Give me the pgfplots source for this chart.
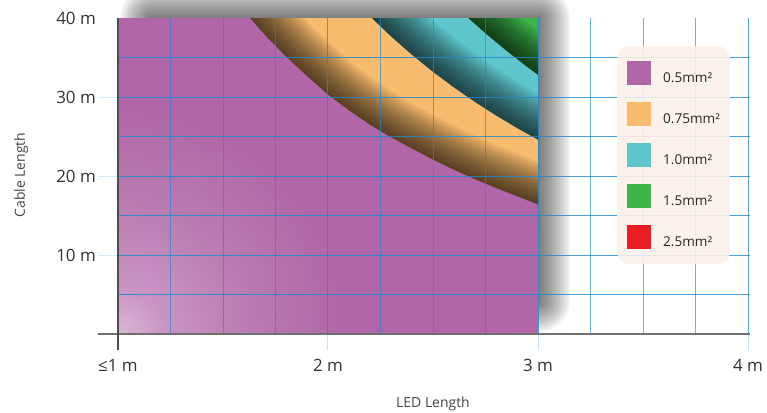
\documentclass[border=0pt]{standalone}
\usepackage{pgfplots}
\pgfplotsset{compat=1.18}
\usepackage{pgfplotstable}
\usepackage{fontspec}
\setmainfont{Open Sans}

\definecolor{cpurple}{HTML}{B066A8}
\definecolor{gA}{HTML}{DAB6D5}
\definecolor{gB}{HTML}{CA95C5}
\definecolor{gC}{HTML}{C088B9}
\definecolor{gD}{HTML}{B87AB0}
\definecolor{corange}{HTML}{F8BC6E}
\definecolor{ccyan}{HTML}{5EC6CC}
\definecolor{cgreen}{HTML}{3CB44A}
\definecolor{cred}{HTML}{ED1C24}
\definecolor{legbg}{HTML}{FBF0E9}
\definecolor{gridblue}{RGB}{30,136,210}
\definecolor{xaxcol}{HTML}{707070}
\definecolor{yaxcol}{HTML}{4D4D4D}
\definecolor{tickcol}{HTML}{333333}
\definecolor{labcol}{HTML}{444444}

\pgfdeclareradialshading{cornerglow}{\pgfpoint{0bp}{0bp}}{color(0bp)=(gA); color(5bp)=(gB); color(10bp)=(gC); color(15bp)=(gD); color(25bp)=(cpurple); color(50bp)=(cpurple)}

% region below boundary 1 (0.5 mm2)
\pgfplotstableread{
x y
1 0
1 40
1.629 40
1.7 37.85
1.8 35.12
1.9 32.67
2.0 30.3
2.1 28.3
2.2 26.5
2.3 24.9
2.4 23.48
2.5 22.08
2.6 20.79
2.7 19.6
2.8 18.49
2.9 17.46
3 16.4
3 0
}\regA
\pgfplotstableread{
x y
1.5 44.4
1.629 40
1.7 37.85
1.8 35.12
1.9 32.67
2.0 30.3
2.1 28.3
2.2 26.5
2.3 24.9
2.4 23.48
2.5 22.08
2.6 20.79
2.7 19.6
2.8 18.49
2.9 17.46
3 16.4
3.2 14.75
}\curveA
% region below boundary 2 (0.75 mm2)
\pgfplotstableread{
x y
1 0
1 40
2.208 40
2.3 37.67
2.4 35.34
2.5 33.19
2.6 31.21
2.7 29.37
2.8 27.67
2.9 26.08
3 24.6
3 0
}\regB
\pgfplotstableread{
x y
2.0 46.07
2.208 40
2.3 37.67
2.4 35.34
2.5 33.19
2.6 31.21
2.7 29.37
2.8 27.67
2.9 26.08
3 24.6
3.2 21.92
}\curveB
% region below boundary 3 (1.0 mm2)
\pgfplotstableread{
x y
1 0
1 40
2.668 40
2.75 38.06
2.85 35.85
2.95 33.78
3 32.8
3 0
}\regC
\pgfplotstableread{
x y
2.45 45.8
2.668 40
2.75 38.06
2.85 35.85
2.95 33.78
3 32.8
3.2 29.19
}\curveC

\begin{document}
\begin{tikzpicture}
\useasboundingbox (-98bp,-63bp) rectangle (669bp,350bp);
\begin{axis}[
  at={(0,0)}, anchor=south west,
  scale only axis, width=652bp, height=331.8bp,
  xmin=0.9048, xmax=4.0095, ymin=-2, ymax=40,
  clip=false,
  axis line style={draw=none},
  major tick length=0pt, minor tick length=0pt,
  tick style={draw=none},
  xtick={1,2,3,4}, xticklabels={≤1 m,2 m,3 m,4 m},
  ytick={10,20,30,40}, yticklabels={10 m,20 m,30 m,40 m},
  xticklabel style={font=\fontsize{17}{19}\selectfont, text=tickcol, anchor=base, yshift=-21bp},
  yticklabel style={font=\fontsize{17}{19}\selectfont, text=tickcol, anchor=east, inner sep=0pt, xshift=-2bp},
  xlabel={LED Length},
  xlabel style={at={(axis description cs:0.5138,-0.1718)}, anchor=base, font=\fontsize{14}{16}\selectfont, text=labcol},
  ylabel={Cable Length},
  ylabel style={at={(axis description cs:-0.112,0.5274)}, anchor=base, font=\fontsize{14}{16}\selectfont, text=labcol},
  legend style={at={(axis description cs:0.796,0.9162)}, anchor=north west,
    draw=none, fill=legbg, fill opacity=0.88, text opacity=1,
    rounded corners=12bp, inner xsep=10bp, inner ysep=15bp,
    row sep=17bp, column sep=0pt,
    nodes={inner sep=0pt},
    font=\fontsize{13.6}{15}\selectfont, text=black!85},
  legend cell align=left,
  legend image code/.code={\fill[#1, sharp corners, fill opacity=1] (0bp,-7bp) rectangle (24bp,17bp); \path (36bp,0bp);},
]
% drop shadow of the chart box (soft, offset up and right)
\pgfplotsinvokeforeach{0,2,4,6,8,10,12,14,16,18,20,22,24,26,28,30,32}{
  \fill[black, fill opacity=0.045, rounded corners=#1bp] ([shift={(-#1bp,-#1bp)}]axis cs:1.1619,4.30) rectangle ([shift={(#1bp,#1bp)}]axis cs:3.0,39.9);
}

\begin{scope}
\clip (axis cs:1,0) rectangle (axis cs:3,40);
% 1.5 mm2 layer (whole box)
\addplot[forget plot, draw=none, fill=cgreen] coordinates {(1,0) (1,40) (3,40) (3,0)} \closedcycle;
\pgfplotsinvokeforeach{5,10,...,70}{
  \addplot[forget plot, draw=black, draw opacity=0.065, line width=#1bp, line join=round, line cap=round] table {\curveC};
}
% 1.0 mm2 layer
\addplot[forget plot, draw=none, fill=ccyan] table {\regC} \closedcycle;
\pgfplotsinvokeforeach{5,10,...,80}{
  \addplot[forget plot, draw=black, draw opacity=0.058, line width=#1bp, line join=round, line cap=round] table {\curveB};
}
% 0.75 mm2 layer
\addplot[forget plot, draw=none, fill=corange] table {\regB} \closedcycle;
\pgfplotsinvokeforeach{5,10,...,80}{
  \addplot[forget plot, draw=black, draw opacity=0.06, line width=#1bp, line join=round, line cap=round] table {\curveA};
}
% 0.5 mm2 layer
\addplot[forget plot, draw=none, fill=cpurple] table {\regA} \closedcycle;
\shade[shading=cornerglow] (axis cs:1,0) circle [radius=230bp];
\end{scope}

% grid
\pgfplotsinvokeforeach{5,10,15,20,25,30,35}{
  \addplot[forget plot, draw=gridblue, draw opacity=0.8, line width=1bp] coordinates {(1,#1) (4.0095,#1)};
}
\pgfplotsinvokeforeach{10,20,30}{
  \addplot[forget plot, draw=gridblue, draw opacity=0.18, line width=1bp] coordinates {(0.9048,#1) (1,#1)};
}
\pgfplotsinvokeforeach{1.25,1.5,1.75,2.25,2.5,2.75,3.25,3.5,3.75}{
  \addplot[forget plot, draw=gridblue, draw opacity=0.65, line width=0.9bp] coordinates {(#1,0) (#1,40)};
}
\pgfplotsinvokeforeach{2,3,4}{
  \addplot[forget plot, draw=gridblue, draw opacity=0.75, line width=1bp] coordinates {(#1,0) (#1,40)};
  \addplot[forget plot, draw=gridblue, draw opacity=0.25, line width=1bp] coordinates {(#1,-2) (#1,0)};
}
% axis lines
\addplot[forget plot, draw=xaxcol, line width=1.6bp] coordinates {(0.9048,0) (4.0095,0)};
\addplot[forget plot, draw=yaxcol, line width=1.2bp] coordinates {(1,-2) (1,40)};

\addlegendimage{fill=cpurple, draw=none}
\addlegendentry{0.5mm²}
\addlegendimage{fill=corange, draw=none}
\addlegendentry{0.75mm²}
\addlegendimage{fill=ccyan, draw=none}
\addlegendentry{1.0mm²}
\addlegendimage{fill=cgreen, draw=none}
\addlegendentry{1.5mm²}
\addlegendimage{fill=cred, draw=none}
\addlegendentry{2.5mm²}
\end{axis}
\end{tikzpicture}
\end{document}
